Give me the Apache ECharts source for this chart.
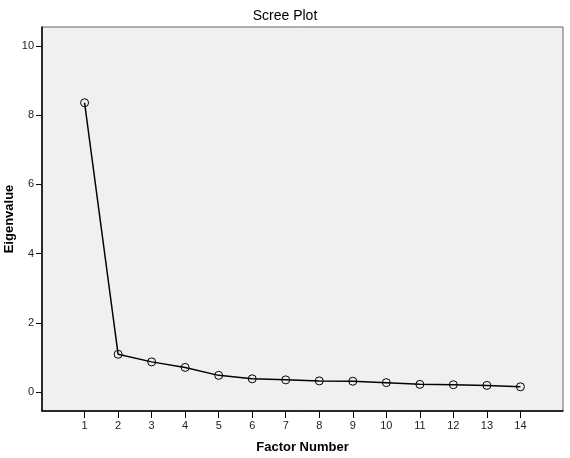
<!DOCTYPE html>
<html>
<head>
<meta charset="utf-8">
<script src="https://cdn.jsdelivr.net/npm/echarts@6/dist/echarts.min.js"></script>
<style>
  html, body { margin: 0; padding: 0; background: #fff; }
  #main { width: 570px; height: 458px; }
</style>
</head>
<body>
<div id="main"></div>
<script>
// values
var factors = [1, 2, 3, 4, 5, 6, 7, 8, 9, 10, 11, 12, 13, 14];
var eigenvalues = [8.36, 1.09, 0.87, 0.71, 0.48, 0.38, 0.35, 0.32, 0.31, 0.27, 0.22, 0.21, 0.19, 0.15];
var yTicks = [0, 2, 4, 6, 8, 10];

var chart = echarts.init(document.getElementById("main"));

var points = factors.map(function (f, i) {
  return [f, eigenvalues[i]];
});

var option = {
  animation: false,
  title: {
    text: "Scree Plot",
    left: "center",
    top: 4,
    textStyle: {
      fontFamily: "Liberation Sans",
      fontSize: 14,
      fontWeight: "normal",
      color: "#000"
    }
  },
  grid: {
    left: 42,
    right: 7,
    top: 27,
    bottom: 47,
    outerBoundsMode: "none",
    containLabel: false,
    show: true,
    backgroundColor: "#f0f0f0",
    borderColor: "#666",
    borderWidth: 1
  },
  xAxis: {
    type: "value",
    min: -0.27,
    max: 15.27,
    name: "Factor Number",
    nameLocation: "middle",
    nameGap: 30,
    nameMoveOverlap: false,
    nameTextStyle: {
      fontFamily: "Liberation Sans",
      fontSize: 13,
      fontWeight: "bold",
      color: "#000"
    },
    axisLine: { show: true, onZero: false, lineStyle: { color: "#000", width: 1.5 } },
    axisTick: { show: true, length: 7, customValues: factors, lineStyle: { color: "#000" } },
    axisLabel: {
      customValues: factors,
      margin: 9,
      fontFamily: "Liberation Sans",
      fontSize: 11,
      color: "#222"
    },
    splitLine: { show: false }
  },
  yAxis: {
    type: "value",
    min: -0.55,
    max: 10.55,
    name: "Eigenvalue",
    nameLocation: "middle",
    nameGap: 26,
    nameMoveOverlap: false,
    nameTextStyle: {
      fontFamily: "Liberation Sans",
      fontSize: 13,
      fontWeight: "bold",
      color: "#000"
    },
    axisLine: { show: true, onZero: false, lineStyle: { color: "#000", width: 1.5 } },
    axisTick: { show: true, length: 6, customValues: yTicks, lineStyle: { color: "#000" } },
    axisLabel: {
      customValues: yTicks,
      margin: 8,
      fontFamily: "Liberation Sans",
      fontSize: 11,
      color: "#222"
    },
    splitLine: { show: false }
  },
  series: [
    {
      type: "line",
      data: points,
      symbol: "circle",
      symbolSize: 8,
      showAllSymbol: true,
      itemStyle: {
        color: "rgba(0,0,0,0)",
        borderColor: "#000",
        borderWidth: 1
      },
      lineStyle: { color: "#000", width: 1.5 }
    }
  ]
};

chart.setOption(option);
</script>
</body>
</html>
